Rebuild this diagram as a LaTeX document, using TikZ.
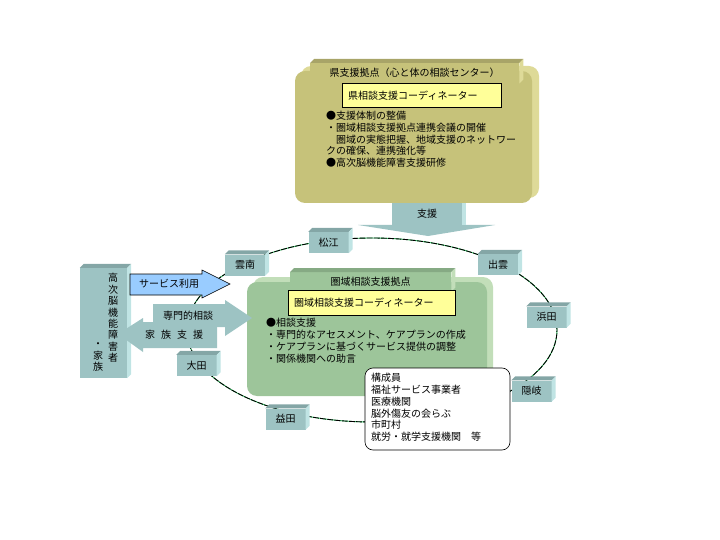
\documentclass[tikz,border=0pt]{standalone}
\usepackage{fontspec}
\setmainfont{Noto Sans CJK JP}
\usepackage{tikz}
\usetikzlibrary{calc}
\definecolor{olivecol}{HTML}{C6C27A}
\definecolor{olivelight}{HTML}{DEDA98}
\definecolor{olivedark}{HTML}{A8A468}
\definecolor{greencol}{HTML}{9DC59A}
\definecolor{greenlight}{HTML}{C2DEB9}
\definecolor{greendark}{HTML}{86AA84}
\definecolor{tealcol}{HTML}{9DC3C3}
\definecolor{teallight}{HTML}{C0E4E4}
\definecolor{tealdark}{HTML}{84A6A6}
\definecolor{bluecol}{HTML}{99CCFF}
\definecolor{yellowcol}{HTML}{FFFF99}
\definecolor{ringgreen}{HTML}{33CC66}
\newcommand{\depthfaces}[3]{%
  \fill[#2] (#1.north west) -- ++(4,-4) -- ($(#1.north east)+(4,-4)$) -- (#1.north east) -- cycle;
  \fill[#3] (#1.north east) -- ++(4,-4) -- ($(#1.south east)+(4,-4)$) -- (#1.south east) -- cycle;}

\begin{document}
\begin{tikzpicture}[x=1pt,y=-1pt,font=\fontsize{10}{12}\selectfont,
  region/.style={fill=tealcol,minimum width=40pt,minimum height=21pt,inner sep=0pt},
  tabbox/.style={anchor=north west,inner sep=0pt},
  coordbox/.style={draw=black,fill=yellowcol,anchor=north west,align=left,
                   inner xsep=6pt,inner ysep=0pt,minimum height=24pt},
  bullets/.style={anchor=north west,align=left,inner sep=0pt,
                  font=\fontsize{10}{11.8}\selectfont},
]
\useasboundingbox (0,0) rectangle (720,540);

% ring of the seven areas
\draw[ringgreen,line width=0.9pt] (372,330) ellipse [x radius=185pt,y radius=92pt];
\draw[black,line width=0.9pt,dash pattern=on 6pt off 1.2pt] (372,330) ellipse [x radius=185pt,y radius=92pt];

% support arrow from the prefecture
\fill[tealcol] (392,200) -- (462,200) -- (462,225) -- (495,225) -- (428,236)
  -- (358,225) -- (392,225) -- cycle;
\fill[teallight] (462,200) -- (466,200) -- (466,225) -- (462,225) -- cycle;
\node (shien) at (427,214) {支援};

% prefecture centre
\fill[olivelight,rounded corners=10pt] (301,66) rectangle (539,198);
\fill[olivecol,rounded corners=10pt] (295,71) rectangle (532,203);
\node[tabbox,fill=olivecol,minimum width=209pt,minimum height=20pt] (kentab) at (310,63)
  {県支援拠点（心と体の相談センター）};
\depthfaces{kentab}{olivedark}{olivelight}
\node[coordbox,text width=147pt] (kencoord) at (342,83) {県相談支援コーディネーター};
\node[bullets] (kenlist) at (326,111)
  {●支援体制の整備\\
   ・圏域相談支援拠点連携会議の開催\\
   \hspace*{10pt}圏域の実態把握、地域支援のネットワー\\
   クの確保、連携強化等\\
   ●高次脳機能障害支援研修};

% area centre
\fill[greenlight,rounded corners=10pt] (253,277) rectangle (493,391);
\fill[greencol,rounded corners=10pt] (247,282) rectangle (487,396);
\node[tabbox,fill=greencol,minimum width=161pt,minimum height=19pt] (kentab2) at (290,272)
  {圏域相談支援拠点};
\depthfaces{kentab2}{greendark}{greenlight}
\node[coordbox,text width=155pt,minimum height=25pt] (areacoord) at (288,290)
  {圏域相談支援コーディネーター};
\node[bullets] (arealist) at (266,318)
  {●相談支援\\
   ・専門的なアセスメント、ケアプランの作成\\
   ・ケアプランに基づくサービス提供の調整\\
   ・関係機関への助言};

% members
\draw[fill=white,rounded corners=8pt,line width=0.6pt] (365,368) rectangle (510,450);
\node[bullets] (members) at (371,373)
  {構成員\\
   福祉サービス事業者\\
   医療機関\\
   脳外傷友の会らぶ\\
   市町村\\
   就労・就学支援機関　等};

% areas
\node[region] (matsue) at (328.5,242.5) {松江};
\depthfaces{matsue}{tealdark}{teallight}
\node[region] (unnan) at (245,265) {雲南};
\depthfaces{unnan}{tealdark}{teallight}
\node[region] (izumo) at (498,264.5) {出雲};
\depthfaces{izumo}{tealdark}{teallight}
\node[region] (hamada) at (546.5,317) {浜田};
\depthfaces{hamada}{tealdark}{teallight}
\node[region] (oki) at (531.5,391) {隠岐};
\depthfaces{oki}{tealdark}{teallight}
\node[region] (masuda) at (285.5,419) {益田};
\depthfaces{masuda}{tealdark}{teallight}
\node[region] (oda) at (196.5,365.5) {大田};
\depthfaces{oda}{tealdark}{teallight}

% persons and families
\node[region,minimum width=47pt,minimum height=110pt] (kazoku) at (103.5,323) {};
\depthfaces{kazoku}{tealdark}{teallight}
\node[align=center,inner sep=0pt,font=\fontsize{10}{11.4}\selectfont] (person) at (113,318)
  {高\\次\\脳\\機\\能\\障\\害\\者};
\node[align=center,inner sep=0pt,font=\fontsize{10}{11.8}\selectfont] (family) at (98,357)
  {・\\家\\族};

% arrows
\fill[tealcol] (118,334) -- (143,318) -- (143,322) -- (217,322) -- (217,348)
  -- (143,348) -- (143,352) -- cycle;
\node (kazokushien) at (174,335) {家\hspace{6pt}族\hspace{6pt}支\hspace{6pt}援};
\fill[tealcol] (153,304) -- (225,304) -- (225,300) -- (252,318) -- (225,336)
  -- (225,327) -- (153,327) -- cycle;
\node (senmon) at (188,316) {専門的相談};
\draw[fill=bluecol,line width=0.6pt] (130,274) -- (202,274) -- (202,270) -- (230,284)
  -- (202,298) -- (202,295) -- (130,295) -- cycle;
\node (service) at (169,284) {サービス利用};
\end{tikzpicture}
\end{document}
